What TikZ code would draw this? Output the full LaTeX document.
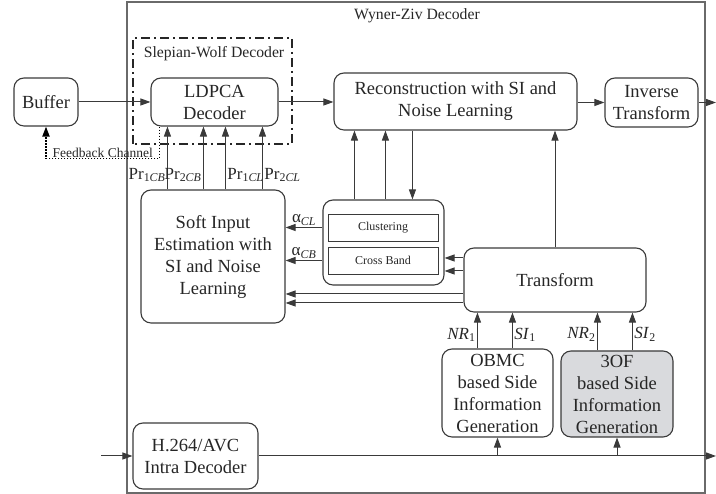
\documentclass[tikz,border=0pt]{standalone}
\usepackage{fontspec}
\setmainfont{Liberation Serif}
\usepackage{tikz}
\usetikzlibrary{arrows.meta}
\definecolor{linegray}{HTML}{3A3A3A}
\definecolor{framegray}{HTML}{6A6A6A}
\definecolor{sigray}{HTML}{D9DADD}

\begin{document}
\begin{tikzpicture}[x=1pt, y=1pt,
  every node/.style={text=black!85, align=center, font=\fontsize{18.5}{22}\selectfont},
  block/.style={draw=linegray, line width=1.1pt, rounded corners=10pt, inner sep=0pt},
  subbox/.style={draw=linegray, line width=0.9pt, inner sep=0pt, minimum width=110, minimum height=27, font=\fontsize{12}{13}\selectfont},
  title/.style={font=\fontsize{15.7}{17}\selectfont},
  arr/.style={-{Triangle[length=10pt,width=7pt]}, draw=linegray, line width=1pt},
  lbl/.style={font=\fontsize{17}{18}\selectfont, inner sep=1.5pt}]
\useasboundingbox (0,0) rectangle (716,494);
\draw[draw=framegray, line width=1.1pt] (127,1) rectangle (705,492);
\node[title] (wztitle) at (417,478) {Wyner-Ziv Decoder};
\draw[draw=black!85, line width=2.4pt, dash pattern=on 9pt off 4pt on 2pt off 4pt] (133,350) rectangle (292,456);
\node[title] (swtitle) at (214,440) {Slepian-Wolf Decoder};

\node[block, minimum width=64, minimum height=48] (buffer) at (46,392) {Buffer};
\node[block, minimum width=127, minimum height=48] (ldpca) at (214.5,392) {LDPCA\\Decoder};
\node[block, minimum width=243, minimum height=57] (recon) at (455.5,392.5) {Reconstruction with SI and\\Noise Learning};
\node[block, minimum width=93, minimum height=49] (inverse) at (651.5,391.5) {Inverse\\Transform};
\node[block, minimum width=144, minimum height=133] (soft) at (213,237.5) {Soft Input\\Estimation with\\SI and Noise\\Learning};
\node[block, minimum width=121, minimum height=85] (alg) at (383.5,251.5) {};
\node[subbox] (clust) at (383,266.5) {Clustering};
\node[subbox] (cross) at (383,233.5) {Cross Band};
\node[block, minimum width=182, minimum height=64] (transform) at (555,214) {Transform};
\node[block, minimum width=111, minimum height=88] (obmc) at (497.5,101) {OBMC\\based Side\\Information\\Generation};
\node[block, fill=sigray, minimum width=112, minimum height=86] (tof) at (617,100) {3OF\\based Side\\Information\\Generation};
\node[block, minimum width=125, minimum height=66] (h264) at (195.5,38) {H.264/AVC\\Intra Decoder};
\coordinate (out1) at (716,391.5);
\coordinate (in2) at (101,38);
\coordinate (out2) at (716,38);

\draw[arr] (buffer) -- (buffer -| ldpca.west);
\draw[arr] (ldpca.east) -- (ldpca.east -| recon.west);
\draw[arr] (inverse.west -| recon.east) -- (inverse.west);
\draw[arr] (inverse.east) -- (out1);
\draw[arr, draw=black, line width=1.8pt, dash pattern=on 1.6pt off 1.4pt] ([xshift=9]ldpca.south west) -- ++(0,-32) -| node[pos=0.25, above, inner sep=0.5pt, font=\fontsize{13.5}{14}\selectfont] (fbtitle) {Feedback Channel} (buffer.south);

\draw[arr] ([xshift=27]soft.north west) -- node[lbl, left, pos=0.23] {Pr\textsubscript{1\textit{CB}}} ([xshift=27]soft.north west |- ldpca.south);
\draw[arr] ([xshift=63]soft.north west) -- node[lbl, left, pos=0.23] {Pr\textsubscript{2\textit{CB}}} ([xshift=63]soft.north west |- ldpca.south);
\draw[arr] ([xshift=85]soft.north west) -- node[lbl, right, pos=0.23] {Pr\textsubscript{1\textit{CL}}} ([xshift=85]soft.north west |- ldpca.south);
\draw[arr] ([xshift=122]soft.north west) -- node[lbl, right, pos=0.23] {Pr\textsubscript{2\textit{CL}}} ([xshift=122]soft.north west |- ldpca.south);

\draw[arr] ([xshift=32]alg.north west) -- ([xshift=32]alg.north west |- recon.south);
\draw[arr] ([xshift=63]alg.north west) -- ([xshift=63]alg.north west |- recon.south);
\draw[arr] ([xshift=90]alg.north west |- recon.south) -- ([xshift=90]alg.north west);
\draw[arr] (transform.north) -- (transform.north |- recon.south);

\draw[arr] (clust.west -| alg.west) -- node[lbl, above] {α\textsubscript{\textit{CL}}} (clust.west -| soft.east);
\draw[arr] (cross.west -| alg.west) -- node[lbl, above] {α\textsubscript{\textit{CB}}} (cross.west -| soft.east);
\draw[arr] ([yshift=22]transform.west) -- ([yshift=22]transform.west -| alg.east);
\draw[arr] ([yshift=9]transform.west) -- ([yshift=9]transform.west -| alg.east);
\draw[arr] ([yshift=-14]transform.west) -- ([yshift=-14]transform.west -| soft.east);
\draw[arr] ([yshift=-23]transform.west) -- ([yshift=-23]transform.west -| soft.east);

\draw[arr] ([xshift=36]obmc.north west) -- node[lbl, left, pos=0.38] {\textit{NR}\textsubscript{1}} ([xshift=36]obmc.north west |- transform.south);
\draw[arr] ([xshift=71]obmc.north west) -- node[lbl, right, pos=0.38] {\textit{SI}\textsubscript{1}} ([xshift=71]obmc.north west |- transform.south);
\draw[arr] ([xshift=37]tof.north west) -- node[lbl, left, pos=0.42] {\textit{NR}\textsubscript{2}} ([xshift=37]tof.north west |- transform.south);
\draw[arr] ([xshift=72]tof.north west) -- node[lbl, right, pos=0.42] {\textit{SI}\textsubscript{2}} ([xshift=72]tof.north west |- transform.south);

\draw[arr] (in2) -- (h264);
\draw[arr] (h264) -- (out2);
\draw[arr] (obmc.south |- h264.east) -- (obmc.south);
\draw[arr] (tof.south |- h264.east) -- (tof.south);
\end{tikzpicture}
\end{document}
